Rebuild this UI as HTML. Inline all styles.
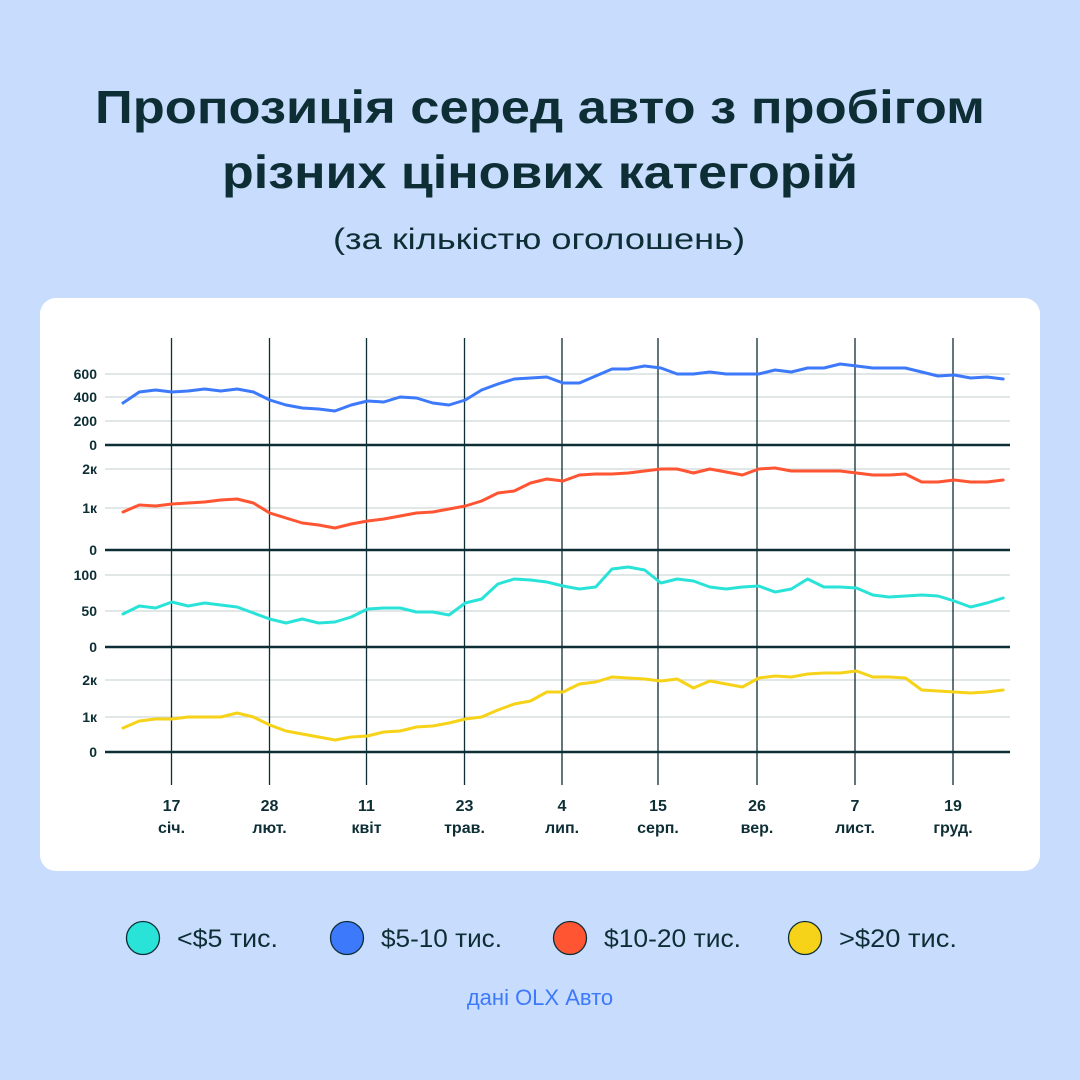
<!DOCTYPE html>
<html><head><meta charset="utf-8"><style>
html,body{margin:0;padding:0;background:#c8dcfd;}
svg{display:block;}
text{font-family:"Liberation Sans","DejaVu Sans",sans-serif;}
</style></head><body>
<svg width="1080" height="1080" viewBox="0 0 1080 1080" xmlns="http://www.w3.org/2000/svg">
<rect width="1080" height="1080" fill="#c8dcfd"/>
<g fill="#0d2e35" font-weight="bold" font-size="46">
<text x="95" y="123" textLength="890" lengthAdjust="spacingAndGlyphs">Пропозиція серед авто з пробігом</text>
<text x="222" y="188" textLength="636" lengthAdjust="spacingAndGlyphs">різних цінових категорій</text>
</g>
<text x="333" y="249" font-size="30" fill="#0d2e35" textLength="412" lengthAdjust="spacingAndGlyphs">(за кількістю оголошень)</text>
<rect x="40" y="298" width="1000" height="573" rx="16" fill="#fff"/>
<g stroke="#cfd6d8" stroke-width="1.3">
<line x1="105" x2="1010" y1="374" y2="374"/><line x1="105" x2="1010" y1="397" y2="397"/><line x1="105" x2="1010" y1="421" y2="421"/>
<line x1="105" x2="1010" y1="469" y2="469"/><line x1="105" x2="1010" y1="508" y2="508"/>
<line x1="105" x2="1010" y1="575" y2="575"/><line x1="105" x2="1010" y1="611" y2="611"/>
<line x1="105" x2="1010" y1="680" y2="680"/><line x1="105" x2="1010" y1="717" y2="717"/>
</g>
<g stroke="#0d2e35" stroke-width="1.3">
<line x1="171.5" x2="171.5" y1="338" y2="785"/><line x1="269.5" x2="269.5" y1="338" y2="785"/><line x1="366.5" x2="366.5" y1="338" y2="785"/>
<line x1="464.5" x2="464.5" y1="338" y2="785"/><line x1="562" x2="562" y1="338" y2="785"/><line x1="658" x2="658" y1="338" y2="785"/>
<line x1="757" x2="757" y1="338" y2="785"/><line x1="855" x2="855" y1="338" y2="785"/><line x1="953" x2="953" y1="338" y2="785"/>
</g>
<g stroke="#0d2e35" stroke-width="2.4">
<line x1="105" x2="1010" y1="445" y2="445"/><line x1="105" x2="1010" y1="550" y2="550"/>
<line x1="105" x2="1010" y1="647" y2="647"/><line x1="105" x2="1010" y1="752" y2="752"/>
</g>
<g fill="#0d2e35" font-weight="bold" font-size="14" text-anchor="end">
<text x="97" y="379">600</text><text x="97" y="402">400</text><text x="97" y="426">200</text><text x="97" y="450">0</text>
<text x="97" y="474">2к</text><text x="97" y="513">1к</text><text x="97" y="555">0</text>
<text x="97" y="580">100</text><text x="97" y="616">50</text><text x="97" y="652">0</text>
<text x="97" y="685">2к</text><text x="97" y="722">1к</text><text x="97" y="757">0</text>
</g>
<g fill="none" stroke-width="3" stroke-linejoin="round" stroke-linecap="round">
<polyline id="b" stroke="#3d79fb" points=""/>
<polyline id="r" stroke="#ff5533" points=""/>
<polyline id="c" stroke="#2ae3d8" points=""/>
<polyline id="y" stroke="#f6d318" points=""/>
</g>
<g fill="#0d2e35" font-weight="bold" font-size="16" text-anchor="middle">
<text x="171.5" y="811">17</text><text x="171.5" y="833">січ.</text>
<text x="269.5" y="811">28</text><text x="269.5" y="833">лют.</text>
<text x="366.5" y="811">11</text><text x="366.5" y="833">квіт</text>
<text x="464.5" y="811">23</text><text x="464.5" y="833">трав.</text>
<text x="562" y="811">4</text><text x="562" y="833">лип.</text>
<text x="658" y="811">15</text><text x="658" y="833">серп.</text>
<text x="757" y="811">26</text><text x="757" y="833">вер.</text>
<text x="855" y="811">7</text><text x="855" y="833">лист.</text>
<text x="953" y="811">19</text><text x="953" y="833">груд.</text>
</g>
<g stroke="#0d2e35" stroke-width="1.3">
<circle cx="143" cy="938" r="16.5" fill="#2ae3d8"/>
<circle cx="347" cy="938" r="16.5" fill="#3d79fb"/>
<circle cx="570" cy="938" r="16.5" fill="#ff5533"/>
<circle cx="805" cy="938" r="16.5" fill="#f6d318"/>
</g>
<g fill="#0d2e35" font-size="25">
<text x="177" y="947" textLength="101" lengthAdjust="spacingAndGlyphs">&lt;$5 тис.</text>
<text x="381" y="947" textLength="121" lengthAdjust="spacingAndGlyphs">$5-10 тис.</text>
<text x="604" y="947" textLength="137" lengthAdjust="spacingAndGlyphs">$10-20 тис.</text>
<text x="839" y="947" textLength="118" lengthAdjust="spacingAndGlyphs">&gt;$20 тис.</text>
</g>
<text x="540" y="1005" font-size="22" fill="#3d79fb" text-anchor="middle">дані OLX Авто</text>
</svg>
<script>
var B=[403,392,390,392,391,389,391,389,392,400,405,408,409,411,405,401,402,397,398,403,405,400,390,384,379,378,377,383,383,376,369,369,366,368,374,374,372,374,374,374,370,372,368,368,364,366,368,368,368,372,376,375,378,377,379];
var R=[512,505,506,504,503,502,500,499,503,513,518,523,525,528,524,521,519,516,513,512,509,506,501,493,491,483,479,481,475,474,474,473,471,469,469,473,469,472,475,469,468,471,471,471,471,473,475,475,474,482,482,480,482,482,480];
var C=[614,606,608,602,606,603,605,607,613,619,623,619,623,622,617,609,608,608,612,612,615,603,599,584,579,580,582,586,589,587,569,567,570,583,579,581,587,589,587,586,592,589,579,587,587,588,595,597,596,595,596,601,607,603,598];
var Y=[728,721,719,719,717,717,717,713,717,725,731,734,737,740,737,736,732,731,727,726,723,719,717,710,704,701,692,692,684,682,677,678,679,681,679,688,681,684,687,678,676,677,674,673,673,671,677,677,678,690,691,692,693,692,690];
function p(a){return a.map(function(v,i){return (123+16.3*i).toFixed(1)+","+v}).join(" ");}
document.getElementById("b").setAttribute("points",p(B));
document.getElementById("r").setAttribute("points",p(R));
document.getElementById("c").setAttribute("points",p(C));
document.getElementById("y").setAttribute("points",p(Y));
</script>
</body></html>
